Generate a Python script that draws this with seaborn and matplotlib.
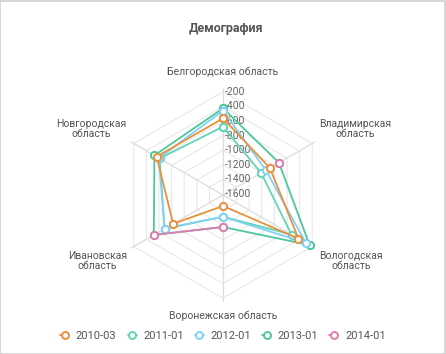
import numpy as np
import matplotlib
matplotlib.use("Agg")
import matplotlib.pyplot as plt
import seaborn as sns
from matplotlib.lines import Line2D
from matplotlib.patches import Rectangle

# axes of the radar, clockwise from the top
regions = ["Белгородская область", "Владимирская\nобласть", "Вологодская\nобласть",
           "Воронежская область", "Ивановская\nобласть", "Новгородская\nобласть"]
series = ["2010-03", "2011-01", "2012-01", "2013-01", "2014-01"]

v_2010_03 = [-562, -871, -419, -1463, -825, -563]
v_2011_01 = [-677, -1010, -528, -1316, -688, -610]
v_2012_01 = [-458, -935, -304, -1316, -688, -599]
v_2013_01 = [-425, -728, -242, -1175, -518, -528]
v_2014_01 = [np.nan, -728, np.nan, -1175, -518, np.nan]

ticks = [-200, -400, -600, -800, -1000, -1200, -1400, -1600]
r_min, r_max = -1614, -150

colors = ["#e8903c", "#62d4b6", "#7fd2f6", "#4cc79a", "#e07cb0"]
values = [v_2010_03, v_2011_01, v_2012_01, v_2013_01, v_2014_01]

sns.set_theme(style="white")
plt.rcParams["font.family"] = ["Roboto", "DejaVu Sans"]

fig = plt.figure(figsize=(4.46, 3.54), dpi=100)
fig.patch.set_facecolor("white")
fig.patches.append(Rectangle((0.001, 0.001), 0.997, 0.996, transform=fig.transFigure,
                             fill=False, ec="#cfcfcf", lw=1.2))

R = (r_max - r_min) * 0.0729
cx, cy = 223, 354 - 195
ax = fig.add_axes([(cx - R) / 446, (cy - R) / 354, 2 * R / 446, 2 * R / 354], polar=True)
ax.set_theta_zero_location("N")
ax.set_theta_direction(-1)
ax.set_ylim(r_min, r_max)
ax.set_xticks([])
ax.set_yticks([])
ax.grid(False)
ax.spines["polar"].set_visible(False)
ax.set_facecolor("none")

n = len(regions)
theta = np.arange(n) * 2 * np.pi / n
theta_c = np.append(theta, theta[0])

# hexagonal grid
for t in ticks:
    ax.plot(theta_c, [t] * (n + 1), color="#e8e8e8", lw=0.8, zorder=1)
for th in theta:
    ax.plot([th, th], [r_min, r_max], color="#dcdcdc", lw=0.9, zorder=1)

# tick labels along the top axis
for t in ticks:
    ax.text(0, t, str(t), fontsize=7.5, color="#666666", ha="left", va="center",
            transform=ax.transData + matplotlib.transforms.ScaledTranslation(2 / 100, 0, fig.dpi_scale_trans),
            zorder=2)

# series, last one on top
order = [3, 1, 2, 0, 4]
for k, i in enumerate(order):
    vals = np.append(values[i], values[i][0])
    ax.plot(theta_c, vals, color=colors[i], lw=1.3, marker="o", ms=5.2,
            mfc="white", mec=colors[i], mew=1.4, zorder=3 + k, clip_on=False)

# region labels
lab_r = [0, -90, -90, -25, -90, -90]
ha = ["center", "left", "left", "center", "right", "right"]
va = ["bottom", "bottom", "top", "top", "top", "bottom"]
for th, name, r, h, v in zip(theta, regions, lab_r, ha, va):
    ax.text(th, r, name, fontsize=7.5, color="#555555", ha=h, va=v,
            multialignment="center", linespacing=1.1)

fig.text(0.507, 0.92, "Демография", fontsize=9, fontweight="bold", color="#555555",
         ha="center", va="center")

handles = [Line2D([], [], color=c, lw=1.3, marker="o", ms=5, mfc="white", mew=1.4)
           for c in colors]
fig.legend(handles, series, loc="center", bbox_to_anchor=(0.5, 0.052), ncol=5,
           frameon=False, fontsize=8, handlelength=0.8, handletextpad=0.6,
           columnspacing=1.0, labelcolor="#555555")

fig.savefig("out.png", dpi=100, facecolor="white")
